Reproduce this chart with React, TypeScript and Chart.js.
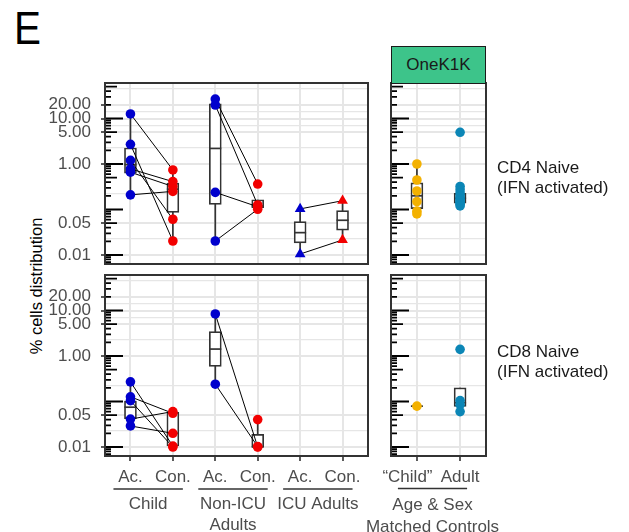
import React, { useEffect, useRef } from 'react';
import { Chart, registerables } from 'chart.js';
Chart.register(...registerables);

const FONT = '"Liberation Sans", Arial, Helvetica, sans-serif';
const TEXT_GREY = '#4D4D4D';
const TEXT_DARK = '#1A1A1A';
const DARK = '#333333';
const GRID = '#E6E6E6';
const BLUE = '#0000CD';
const RED = '#F20000';
const ORANGE = '#F3B100';
const TEAL = '#0B86B6';
const STRIP_GREEN = '#3DC48A';

// ---------- categories / tick labels ----------
const leftCategories = ['Ac.', 'Con.', 'Ac.', 'Con.', 'Ac.', 'Con.'];
const leftGroupNames = [['Child'], ['Non-ICU', 'Adults'], ['ICU Adults']];
const rightCategories = ['\u201cChild\u201d    ', 'Adult'];
const rightGroupNames = [['Age & Sex', 'Matched Controls']];
const yBreakValues = [0.01, 0.05, 1, 5, 10, 20];
const yBreakLabels = ['0.01', '0.05', '1.00', '5.00', '10.00', '20.00'];
const yMin = 0.00634;
const yMax = 60.3;

// ---------- CD4 Naive (IFN activated) ----------
const cd4ChildAc = [12.6, 2.71, 1.2, 0.78, 0.66, 0.21];
const cd4ChildCon = [0.74, 0.0203, 0.061, 0.41, 0.32, 0.25];
const cd4NonIcuAc = [26.8, 19.8, 0.238, 0.0203];
const cd4NonIcuCon = [0.363, 0.126, 0.115, 0.101];
const cd4IcuAc = [0.103, 0.0105];
const cd4IcuCon = [0.156, 0.0214];
const cd4CtrlChild = [1.0, 0.445, 0.255, 0.149, 0.092, 0.08];
const cd4CtrlAdult = [4.98, 0.32, 0.27, 0.23, 0.2, 0.18, 0.165, 0.15, 0.14, 0.13, 0.12];
// box stats: [lower whisker, q1, median, q3, upper whisker]
const cd4LeftBoxes: (number[] | null)[] = [
  [0.21, 0.63, 0.97, 2.25, 12.6],
  [0.0203, 0.086, 0.28, 0.38, 0.74],
  [0.0203, 0.13, 2.2, 21, 26.8],
  [0.101, 0.11, 0.12, 0.164, 0.164],
  [0.0105, 0.0185, 0.031, 0.054, 0.103],
  [0.0214, 0.035, 0.058, 0.095, 0.156],
];
const cd4RightBoxes: (number[] | null)[] = [
  [0.08, 0.104, 0.2, 0.387, 1.0],
  [0.117, 0.137, 0.176, 0.227, 0.32],
];

// ---------- CD8 Naive (IFN activated) ----------
const cd8ChildAc = [0.27, 0.127, 0.104, 0.041, 0.029];
const cd8ChildCon = [0.0105, 0.055, 0.01, 0.06, 0.02];
const cd8NonIcuAc = [8.4, 0.24];
const cd8NonIcuCon = [0.01, 0.0102, 0.04];
const cd8IcuAc: number[] = [];
const cd8IcuCon: number[] = [];
const cd8CtrlChild = [0.079];
const cd8CtrlAdult = [1.4, 0.105, 0.085, 0.06];
const cd8LeftBoxes: (number[] | null)[] = [
  [0.029, 0.042, 0.075, 0.102, 0.27],
  [0.01, 0.0105, 0.02, 0.058, 0.06],
  [0.24, 0.59, 1.42, 3.45, 8.4],
  [0.01, 0.01, 0.01, 0.019, 0.04],
  null,
  null,
];
const cd8RightBoxes: (number[] | null)[] = [
  [0.079, 0.079, 0.079, 0.079, 0.079],
  [0.06, 0.078, 0.094, 0.2, 0.2],
];

// ggplot-style minor breaks: midpoints (in log space) between breaks
function buildGridValues(): number[] {
  const b = yBreakValues.map(Math.log10);
  const bd = b[1] - b[0];
  const ext = [...b];
  const lo = Math.log10(yMin);
  const hi = Math.log10(yMax);
  if (lo < b[0]) ext.unshift(b[0] - bd);
  if (hi > b[b.length - 1]) ext.push(b[b.length - 1] + bd);
  const minors: number[] = [];
  for (let i = 0; i < ext.length - 1; i++) minors.push((ext[i] + ext[i + 1]) / 2);
  return [...yBreakValues, ...minors.filter((m) => m > lo && m < hi).map((m) => Math.pow(10, m))].sort(
    (a, c) => a - c
  );
}
const yGridValues = buildGridValues();
const isMajor = (v: number) => yBreakValues.some((b) => Math.abs(b - v) < 1e-12);

interface SeriesDef {
  cat: number;
  values: number[];
  color: string;
  shape: 'circle' | 'triangle';
}

interface GroupDef {
  names: string[];
  from: number;
  to: number;
}

interface PanelSpec {
  categories: string[];
  showXLabels: boolean;
  showYLabels: boolean;
  padding: { left: number; top: number; right: number; bottom: number };
  yWidth: number;
  xHeight: number;
  series: SeriesDef[];
  pairs: [number, number][];
  boxes: (number[] | null)[];
  groups?: GroupDef[];
  groupGeom?: { offL: number; offR: number; lineDy: number; baseDy: number; lineGap: number };
}

function buildDatasets(spec: PanelSpec) {
  const ds: any[] = [];
  spec.boxes.forEach((b, i) => {
    if (!b) return;
    ds.push({
      type: 'line',
      data: [
        { x: i, y: b[0] },
        { x: i, y: b[4] },
      ],
      showLine: true,
      borderColor: DARK,
      borderWidth: 1.7,
      pointRadius: 0,
      fill: false,
      order: 5,
    });
  });
  ds.push({
    type: 'bar',
    data: spec.boxes
      .map((b, i) => (b ? { x: i, y: [b[1], b[3]] } : null))
      .filter((d) => d !== null),
    backgroundColor: '#FFFFFF',
    borderColor: DARK,
    borderWidth: 1.7,
    borderSkipped: false,
    barThickness: 12,
    order: 4,
  });
  ds.push({
    type: 'scatter',
    data: spec.boxes.map((b, i) => (b ? { x: i, y: b[2] } : null)).filter((d) => d !== null),
    pointStyle: 'line',
    pointRadius: 6,
    pointBorderColor: DARK,
    pointBackgroundColor: DARK,
    pointBorderWidth: 1.7,
    order: 3,
  });
  spec.pairs.forEach(([a, c]) => {
    const sa = spec.series[a];
    const sc = spec.series[c];
    const n = Math.min(sa.values.length, sc.values.length);
    for (let i = 0; i < n; i++) {
      ds.push({
        type: 'line',
        data: [
          { x: sa.cat, y: sa.values[i] },
          { x: sc.cat, y: sc.values[i] },
        ],
        showLine: true,
        borderColor: '#000000',
        borderWidth: 1,
        pointRadius: 0,
        fill: false,
        order: 2,
      });
    }
  });
  spec.series.forEach((s) => {
    ds.push({
      type: 'scatter',
      data: s.values.map((v) => ({ x: s.cat, y: v })),
      pointStyle: s.shape,
      pointRadius: s.shape === 'triangle' ? 6.2 : 4.8,
      pointBackgroundColor: s.color,
      pointBorderColor: s.color,
      pointBorderWidth: 0,
      order: 1,
    });
  });
  return ds;
}

const logTicksPlugin = {
  id: 'logTicks',
  beforeDatasetsDraw(chart: any) {
    const { ctx, chartArea: a } = chart;
    const y = chart.scales.y;
    ctx.save();
    ctx.strokeStyle = '#000000';
    ctx.lineWidth = 1.8;
    ctx.beginPath();
    for (let e = -3; e <= 1; e++) {
      for (let m = 1; m <= 9; m++) {
        const v = m * Math.pow(10, e);
        if (v < yMin || v > yMax) continue;
        const py = y.getPixelForValue(v);
        const len = m === 1 ? 18 : m === 5 ? 12 : 6;
        ctx.moveTo(a.left, py);
        ctx.lineTo(a.left + len, py);
      }
    }
    ctx.stroke();
    ctx.restore();
  },
};

const borderPlugin = {
  id: 'panelBorder',
  afterDraw(chart: any) {
    const { ctx, chartArea: a } = chart;
    ctx.save();
    ctx.strokeStyle = DARK;
    ctx.lineWidth = 2;
    ctx.strokeRect(a.left, a.top, a.right - a.left, a.bottom - a.top);
    ctx.restore();
  },
};

function makeGroupPlugin(spec: PanelSpec) {
  return {
    id: 'groupLabels',
    afterDraw(chart: any) {
      if (!spec.groups || !spec.groupGeom) return;
      const g = spec.groupGeom;
      const { ctx, chartArea: a } = chart;
      const xs = chart.scales.x;
      ctx.save();
      ctx.strokeStyle = DARK;
      ctx.lineWidth = 1.4;
      ctx.fillStyle = TEXT_GREY;
      ctx.font = `17px ${FONT}`;
      ctx.textAlign = 'center';
      ctx.textBaseline = 'alphabetic';
      spec.groups.forEach((grp) => {
        const x1 = xs.getPixelForValue(grp.from) + g.offL;
        const x2 = xs.getPixelForValue(grp.to) + g.offR;
        const ly = a.bottom + g.lineDy;
        ctx.beginPath();
        ctx.moveTo(x1, ly);
        ctx.lineTo(x2, ly);
        ctx.stroke();
        grp.names.forEach((name, k) => {
          ctx.fillText(name, (x1 + x2) / 2, a.bottom + g.baseDy + k * g.lineGap);
        });
      });
      ctx.restore();
    },
  };
}

function makeConfig(spec: PanelSpec): any {
  const nCat = spec.categories.length;
  return {
    type: 'scatter',
    data: { datasets: buildDatasets(spec) },
    options: {
      responsive: false,
      maintainAspectRatio: false,
      animation: false,
      events: [],
      layout: { padding: spec.padding },
      plugins: { legend: { display: false }, tooltip: { enabled: false } },
      scales: {
        x: {
          type: 'linear',
          min: -0.6,
          max: nCat - 0.4,
          offset: false,
          afterBuildTicks: (s: any) => {
            s.ticks = spec.categories.map((_, i) => ({ value: i }));
          },
          afterFit: (s: any) => {
            s.height = spec.xHeight;
          },
          ticks: {
            display: spec.showXLabels,
            autoSkip: false,
            maxRotation: 0,
            minRotation: 0,
            padding: 6,
            color: TEXT_GREY,
            font: { family: FONT, size: 17 },
            callback: (v: any) => spec.categories[Math.round(v)] ?? '',
          },
          grid: {
            display: true,
            offset: false,
            color: GRID,
            lineWidth: 2,
            drawTicks: spec.showXLabels,
            tickLength: 5,
            tickColor: DARK,
            tickWidth: 1.6,
          },
          border: { display: false },
        },
        y: {
          type: 'logarithmic',
          min: yMin,
          max: yMax,
          afterBuildTicks: (s: any) => {
            s.ticks = yGridValues.map((v) => ({ value: v }));
          },
          afterFit: (s: any) => {
            s.width = spec.yWidth;
          },
          ticks: {
            display: spec.showYLabels,
            autoSkip: false,
            padding: 10,
            color: TEXT_GREY,
            font: { family: FONT, size: 17 },
            callback: (v: any) => {
              const i = yBreakValues.findIndex((b) => Math.abs(b - v) < 1e-12);
              return i >= 0 ? yBreakLabels[i] : '';
            },
          },
          grid: {
            color: GRID,
            lineWidth: (c: any) => (c.tick && isMajor(c.tick.value) ? 2 : 1.2),
            drawTicks: spec.showYLabels,
            tickLength: 4,
            tickColor: (c: any) => (c.tick && isMajor(c.tick.value) ? DARK : 'rgba(0,0,0,0)'),
            tickWidth: 1.6,
          },
          border: { display: false },
        },
      },
    },
    plugins: [logTicksPlugin, borderPlugin, makeGroupPlugin(spec)],
  };
}

function PanelChart(props: { left: number; top: number; width: number; height: number; spec: PanelSpec }) {
  const ref = useRef<HTMLCanvasElement>(null);
  useEffect(() => {
    if (!ref.current) return;
    const chart = new Chart(ref.current, makeConfig(props.spec));
    return () => chart.destroy();
  }, []);
  return (
    <canvas
      ref={ref}
      width={props.width}
      height={props.height}
      style={{ position: 'absolute', left: props.left, top: props.top, width: props.width, height: props.height }}
    />
  );
}

const leftGroups: GroupDef[] = leftGroupNames.map((names, i) => ({ names, from: i * 2, to: i * 2 + 1 }));
const rightGroups: GroupDef[] = rightGroupNames.map((names) => ({ names, from: 0, to: 1 }));

const specTL: PanelSpec = {
  categories: leftCategories,
  showXLabels: false,
  showYLabels: true,
  padding: { left: 0, top: 25, right: 15, bottom: 25 },
  yWidth: 65,
  xHeight: 0,
  series: [
    { cat: 0, values: cd4ChildAc, color: BLUE, shape: 'circle' },
    { cat: 1, values: cd4ChildCon, color: RED, shape: 'circle' },
    { cat: 2, values: cd4NonIcuAc, color: BLUE, shape: 'circle' },
    { cat: 3, values: cd4NonIcuCon, color: RED, shape: 'circle' },
    { cat: 4, values: cd4IcuAc, color: BLUE, shape: 'triangle' },
    { cat: 5, values: cd4IcuCon, color: RED, shape: 'triangle' },
  ],
  pairs: [
    [0, 1],
    [2, 3],
    [4, 5],
  ],
  boxes: cd4LeftBoxes,
};

const specBL: PanelSpec = {
  categories: leftCategories,
  showXLabels: true,
  showYLabels: true,
  padding: { left: 0, top: 25, right: 15, bottom: 0 },
  yWidth: 65,
  xHeight: 76,
  series: [
    { cat: 0, values: cd8ChildAc, color: BLUE, shape: 'circle' },
    { cat: 1, values: cd8ChildCon, color: RED, shape: 'circle' },
    { cat: 2, values: cd8NonIcuAc, color: BLUE, shape: 'circle' },
    { cat: 3, values: cd8NonIcuCon, color: RED, shape: 'circle' },
    { cat: 4, values: cd8IcuAc, color: BLUE, shape: 'triangle' },
    { cat: 5, values: cd8IcuCon, color: RED, shape: 'triangle' },
  ],
  pairs: [
    [0, 1],
    [2, 3],
    [4, 5],
  ],
  boxes: cd8LeftBoxes,
  groups: leftGroups,
  groupGeom: { offL: -17, offR: 10, lineDy: 33, baseDy: 52.5, lineGap: 21 },
};

const specTR: PanelSpec = {
  categories: rightCategories,
  showXLabels: false,
  showYLabels: false,
  padding: { left: 10, top: 25, right: 15, bottom: 25 },
  yWidth: 0,
  xHeight: 0,
  series: [
    { cat: 0, values: cd4CtrlChild, color: ORANGE, shape: 'circle' },
    { cat: 1, values: cd4CtrlAdult, color: TEAL, shape: 'circle' },
  ],
  pairs: [],
  boxes: cd4RightBoxes,
};

const specBR: PanelSpec = {
  categories: rightCategories,
  showXLabels: true,
  showYLabels: false,
  padding: { left: 45, top: 25, right: 20, bottom: 0 },
  yWidth: 0,
  xHeight: 76,
  series: [
    { cat: 0, values: cd8CtrlChild, color: ORANGE, shape: 'circle' },
    { cat: 1, values: cd8CtrlAdult, color: TEAL, shape: 'circle' },
  ],
  pairs: [],
  boxes: cd8RightBoxes,
  groups: rightGroups,
  groupGeom: { offL: -19, offR: 7, lineDy: 32.5, baseDy: 54, lineGap: 21.5 },
};

export default function App() {
  return (
    <div
      style={{
        position: 'fixed',
        left: 0,
        top: 0,
        width: 629,
        height: 532,
        background: '#FFFFFF',
        overflow: 'hidden',
        fontFamily: FONT,
      }}
    >
      <div
        style={{
          position: 'absolute',
          left: 13.8,
          top: 4.2,
          fontSize: 47,
          lineHeight: '47px',
          transform: 'scaleX(0.86)',
          transformOrigin: 'left top',
          color: '#000',
        }}
      >
        E
      </div>
      <div
        style={{
          position: 'absolute',
          left: -64,
          top: 276,
          width: 200,
          height: 20,
          lineHeight: '20px',
          fontSize: 16.5,
          textAlign: 'center',
          whiteSpace: 'nowrap',
          transform: 'rotate(-90deg)',
          color: '#000',
        }}
      >
        % cells distribution
      </div>
      <PanelChart left={40} top={58} width={343} height={231} spec={specTL} />
      <PanelChart left={40} top={250} width={343} height={282} spec={specBL} />
      <PanelChart left={381} top={58} width={120} height={231} spec={specTR} />
      <PanelChart left={346} top={250} width={160} height={282} spec={specBR} />
      <div
        style={{
          position: 'absolute',
          left: 391,
          top: 46,
          width: 95,
          height: 38,
          boxSizing: 'border-box',
          border: '1.6px solid #1A1A1A',
          background: STRIP_GREEN,
          color: TEXT_DARK,
          fontSize: 17,
          lineHeight: '20px',
          paddingTop: 8.3,
          textAlign: 'center',
        }}
      >
        OneK1K
      </div>
      <div
        style={{
          position: 'absolute',
          left: 497,
          top: 158.1,
          fontSize: 17,
          lineHeight: '20px',
          color: TEXT_DARK,
          whiteSpace: 'nowrap',
        }}
      >
        CD4 Naive
        <br />
        (IFN activated)
      </div>
      <div
        style={{
          position: 'absolute',
          left: 497,
          top: 342.1,
          fontSize: 17,
          lineHeight: '20px',
          color: TEXT_DARK,
          whiteSpace: 'nowrap',
        }}
      >
        CD8 Naive
        <br />
        (IFN activated)
      </div>
    </div>
  );
}
